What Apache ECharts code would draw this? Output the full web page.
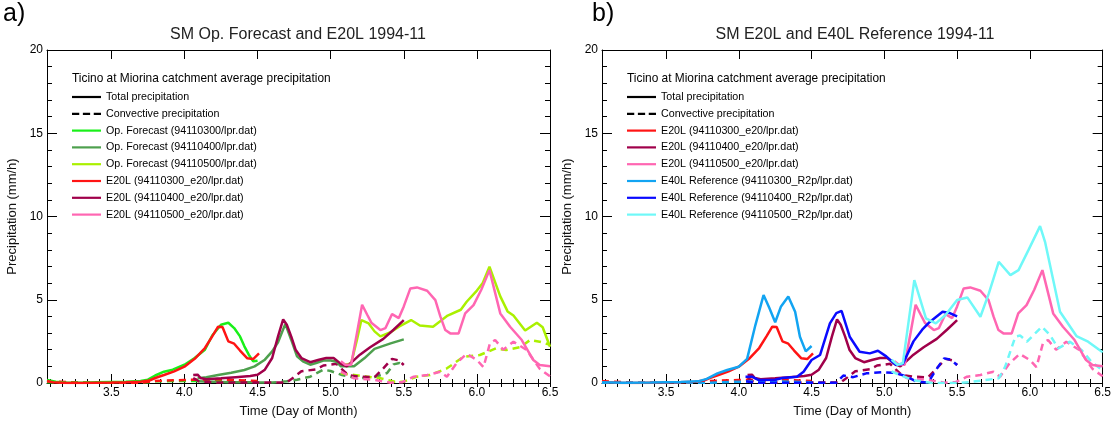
<!DOCTYPE html>
<html>
<head>
<meta charset="utf-8">
<script src="https://cdn.jsdelivr.net/npm/echarts/dist/echarts.min.js"></script>
<style>
  html, body { margin: 0; padding: 0; background: #fff; }
  #chart { width: 1114px; height: 423px; }
</style>
</head>
<body>
<div id="chart"></div>
<script>
// 坐标轴范围与刻度
const xMin = 3.06, xMax = 6.5;
const xMajor = [3.5, 4.0, 4.5, 5.0, 5.5, 6.0, 6.5];
const yTicks = [0, 5, 10, 15, 20];

// Op. Forecast 总降水 [日, mm/h]
const opf0300 = [[3.06,0.18],[3.12,0.08],[3.2,0.02],[3.3,0.02],[3.4,0.04],[3.5,0.06],[3.6,0.08],[3.7,0.12],[3.75,0.2],[3.8,0.45],[3.86,0.68],[3.92,0.8],[4.0,1.1],[4.07,1.5],[4.14,2.0],[4.19,2.85],[4.25,3.5],[4.3,3.62],[4.34,3.3],[4.38,2.8],[4.41,2.2],[4.44,1.7],[4.47,1.3],[4.5,1.34]];
const opf0400 = [[4.09,0.28],[4.15,0.35],[4.23,0.48],[4.32,0.62],[4.41,0.78],[4.48,1.0],[4.55,1.4],[4.6,1.9],[4.64,2.45],[4.69,3.55],[4.73,2.6],[4.77,1.6],[4.81,1.3],[4.86,1.1],[4.9,1.2],[4.95,1.35],[5.0,1.35],[5.04,1.28],[5.07,1.0],[5.16,1.0],[5.23,1.48],[5.3,2.05],[5.41,2.38],[5.5,2.62]];
const opf0500 = [[5.07,1.2],[5.1,1.1],[5.14,1.18],[5.18,2.6],[5.21,3.78],[5.26,3.58],[5.3,3.1],[5.34,2.8],[5.41,3.05],[5.47,3.4],[5.55,3.78],[5.61,3.45],[5.7,3.38],[5.8,4.05],[5.89,4.4],[5.93,4.88],[6.0,5.55],[6.04,6.0],[6.086,6.98],[6.16,5.2],[6.21,4.3],[6.25,4.05],[6.33,3.15],[6.41,3.62],[6.45,3.35],[6.5,2.18]];

// E20L 总降水
const e20_0300 = [[3.06,0.12],[3.1,0.05],[3.2,0.0],[3.3,0.0],[3.4,0.02],[3.5,0.03],[3.6,0.05],[3.7,0.08],[3.76,0.15],[3.8,0.3],[3.86,0.48],[3.93,0.7],[4.0,0.98],[4.07,1.45],[4.14,2.1],[4.19,2.8],[4.23,3.38],[4.26,3.36],[4.3,2.5],[4.34,2.36],[4.38,1.95],[4.43,1.48],[4.47,1.44],[4.51,1.78]];
const e20_0400 = [[4.06,0.48],[4.09,0.5],[4.11,0.3],[4.15,0.22],[4.25,0.28],[4.35,0.35],[4.45,0.42],[4.5,0.5],[4.55,0.8],[4.6,1.5],[4.64,2.8],[4.675,3.82],[4.7,3.5],[4.73,2.8],[4.76,2.0],[4.8,1.5],[4.86,1.25],[4.92,1.4],[4.97,1.5],[5.02,1.5],[5.07,1.15],[5.11,1.0],[5.15,1.3],[5.2,1.7],[5.27,2.15],[5.36,2.65],[5.43,3.2],[5.5,3.78]];
const e20_0500 = [[5.07,1.3],[5.1,1.1],[5.14,1.1],[5.18,3.0],[5.215,4.7],[5.25,4.1],[5.28,3.6],[5.34,3.18],[5.375,3.3],[5.42,4.14],[5.466,3.9],[5.5,4.6],[5.545,5.68],[5.59,5.74],[5.66,5.54],[5.716,4.98],[5.75,4.0],[5.784,3.18],[5.818,2.98],[5.875,2.98],[5.92,4.18],[5.977,4.68],[6.03,5.6],[6.086,6.78],[6.16,4.18],[6.227,3.38],[6.307,2.58],[6.386,1.38],[6.43,1.08],[6.5,1.0]];

// E40L Reference 总降水
const e40_0300 = [[3.06,0.05],[3.2,0.02],[3.4,0.03],[3.6,0.06],[3.72,0.1],[3.78,0.25],[3.853,0.58],[3.92,0.78],[4.0,0.98],[4.057,1.45],[4.114,3.48],[4.17,5.28],[4.21,4.5],[4.25,3.65],[4.29,4.6],[4.34,5.2],[4.387,4.28],[4.42,2.78],[4.46,1.9],[4.5,2.22]];
const e40_0400 = [[4.046,0.38],[4.09,0.38],[4.137,0.18],[4.25,0.2],[4.3,0.3],[4.4,0.38],[4.445,0.68],[4.5,1.38],[4.558,1.68],[4.626,3.58],[4.67,4.2],[4.706,4.33],[4.762,2.78],[4.83,1.88],[4.9,1.78],[4.956,1.94],[5.013,1.6],[5.08,1.08],[5.127,1.15],[5.2,2.5],[5.26,3.2],[5.31,3.65],[5.4,4.28],[5.45,4.2],[5.5,4.0]];
const e40_0500 = [[5.05,1.4],[5.09,1.1],[5.127,1.18],[5.206,6.18],[5.286,3.88],[5.354,3.58],[5.42,4.08],[5.5,4.98],[5.57,5.14],[5.66,3.98],[5.718,5.38],[5.786,7.28],[5.866,6.48],[5.922,6.78],[5.99,7.98],[6.07,9.42],[6.104,8.48],[6.207,4.28],[6.32,2.82],[6.4,2.48],[6.5,1.85]];

// 对流降水 (虚线)
const opf0300c = [[3.06,0.05],[3.5,0.02],[3.75,0.05],[3.8,0.1],[4.0,0.12],[4.2,0.12],[4.4,0.1],[4.5,0.1]];
const opf0400c = [[4.09,0.1],[4.3,0.05],[4.6,0.03],[4.7,0.1],[4.77,0.2],[4.86,0.38],[4.95,0.8],[5.0,0.72],[5.07,0.5],[5.18,0.28],[5.3,0.36],[5.386,0.6],[5.43,1.12],[5.47,1.2],[5.5,1.05]];
const opf0500c = [[5.07,0.58],[5.16,0.48],[5.25,0.38],[5.34,0.28],[5.44,0.08],[5.5,0.08],[5.59,0.38],[5.68,0.48],[5.795,0.88],[5.909,1.58],[6.02,1.68],[6.13,2.08],[6.2,1.98],[6.296,2.15],[6.364,2.58],[6.43,2.48],[6.5,2.3]];
const e20_0300c = [[3.06,0.1],[3.3,0.02],[3.7,0.02],[3.8,0.12],[4.0,0.18],[4.2,0.22],[4.35,0.18],[4.5,0.12]];
const e20_0400c = [[4.06,0.3],[4.1,0.1],[4.2,0.03],[4.7,0.03],[4.75,0.36],[4.8,0.7],[4.9,0.82],[4.95,1.05],[5.04,1.15],[5.08,0.8],[5.12,0.48],[5.2,0.38],[5.3,0.34],[5.36,0.88],[5.42,1.45],[5.466,1.36],[5.5,1.08]];
const e20_0500c = [[5.07,0.68],[5.16,0.28],[5.295,0.2],[5.41,0.02],[5.49,0.05],[5.568,0.38],[5.66,0.48],[5.75,0.68],[5.795,0.38],[5.86,1.18],[5.93,1.75],[6.0,1.38],[6.045,0.95],[6.09,2.4],[6.125,2.58],[6.18,2.0],[6.25,2.48],[6.34,1.98],[6.43,0.85],[6.5,0.4]];
const e40_0300c = [[3.06,0.02],[3.8,0.02],[4.0,0.08],[4.2,0.1],[4.5,0.05]];
const e40_0400c = [[4.05,0.1],[4.1,0.02],[4.67,0.02],[4.718,0.45],[4.786,0.35],[4.876,0.58],[4.99,0.65],[5.08,0.6],[5.15,0.4],[5.22,0.08],[5.3,0.02],[5.354,0.78],[5.41,1.48],[5.456,1.4],[5.5,1.08]];
const e40_0500c = [[5.05,0.7],[5.1,0.5],[5.195,0.18],[5.33,0.0],[5.5,0.0],[5.58,0.05],[5.695,0.18],[5.786,0.28],[5.83,0.98],[5.9,2.78],[5.934,2.85],[5.98,2.48],[6.036,2.98],[6.082,3.38],[6.138,2.88],[6.195,2.08],[6.275,2.48],[6.355,1.98],[6.423,1.28],[6.5,0.75]];

const leftNames = ['Op. Forecast (94110300/lpr.dat)', 'Op. Forecast (94110400/lpr.dat)', 'Op. Forecast (94110500/lpr.dat)',
                   'E20L (94110300_e20/lpr.dat)', 'E20L (94110400_e20/lpr.dat)', 'E20L (94110500_e20/lpr.dat)'];
const rightNames = ['E20L (94110300_e20/lpr.dat)', 'E20L (94110400_e20/lpr.dat)', 'E20L (94110500_e20/lpr.dat)',
                    'E40L Reference (94110300_R2p/lpr.dat)', 'E40L Reference (94110400_R2p/lpr.dat)', 'E40L Reference (94110500_R2p/lpr.dat)'];

const FONT = 'Liberation Sans';
const colOpf = ['#19f019', '#4ea04e', '#aaf000'];
const colE20 = ['#ff1414', '#a0004a', '#ff66b2'];
const colE40 = ['#12a4f2', '#0a0aff', '#6ff8f8'];

// 图例图标: 实线 / 虚线
const ICON_SOLID = 'rect';
const ICON_DASH = 'path://M0,0H7V2.2H0Z M10.5,0H17.5V2.2H10.5Z M21,0H28V2.2H21Z';

// x 轴小刻度 每 2 小时
const xMinor = [];
for (let k = 37; k <= 78; k++) xMinor.push(k / 12);

function xAxes(g) {
    const base = { gridIndex: g, type: 'value', min: xMin, max: xMax, splitLine: { show: false } };
    return [
        Object.assign({}, base, {
            position: 'bottom',
            name: 'Time (Day of Month)', nameLocation: 'middle', nameGap: 22,
            nameTextStyle: { fontFamily: FONT, fontSize: 13, color: '#111' },
            axisLine: { show: true, onZero: false, lineStyle: { color: '#000', width: 1 } },
            axisTick: { inside: true, length: 9, customValues: xMajor, lineStyle: { color: '#000' } },
            axisLabel: { customValues: xMajor, formatter: v => v.toFixed(1), margin: 4, fontFamily: FONT, fontSize: 12, color: '#000' }
        }),
        Object.assign({}, base, {
            position: 'bottom', axisLine: { show: false },
            axisTick: { inside: true, length: 4, customValues: xMinor, lineStyle: { color: '#000' } },
            axisLabel: { show: false }
        }),
        Object.assign({}, base, {
            position: 'top',
            axisLine: { show: true, onZero: false, lineStyle: { color: '#000', width: 1 } },
            axisTick: { inside: true, length: 9, customValues: xMajor, lineStyle: { color: '#000' } },
            axisLabel: { show: false }
        }),
        Object.assign({}, base, {
            position: 'top', axisLine: { show: false },
            axisTick: { inside: true, length: 4, customValues: xMinor, lineStyle: { color: '#000' } },
            axisLabel: { show: false }
        })
    ];
}

function yAxes(g) {
    const base = {
        gridIndex: g, type: 'value', min: 0, max: 20, interval: 5, splitLine: { show: false },
        axisLine: { show: true, lineStyle: { color: '#000', width: 1 } },
        axisTick: { inside: true, length: 10, lineStyle: { color: '#000' } },
        minorTick: { show: true, splitNumber: 5, length: 5, lineStyle: { color: '#000' } }
    };
    return [
        Object.assign({}, base, {
            position: 'left',
            name: 'Precipitation (mm/h)', nameLocation: 'middle', nameGap: 28,
            nameTextStyle: { fontFamily: FONT, fontSize: 13, color: '#111' },
            axisLabel: { margin: 4, fontFamily: FONT, fontSize: 12, color: '#000',
                         formatter: v => yTicks.indexOf(v) >= 0 ? String(v) : '' }
        }),
        Object.assign({}, base, { position: 'right', axisLabel: { show: false } })
    ];
}

function line(name, data, color, dashed, g) {
    return {
        name: name, type: 'line', data: data,
        xAxisIndex: g * 4, yAxisIndex: g * 2,
        symbol: 'none', smooth: false, animation: false,
        lineStyle: { color: color, width: 2.5, type: dashed ? [7, 5] : 'solid' },
        itemStyle: { color: color }
    };
}

const series = [
    line('Total precipitation', [], '#000', false, 0),
    line('Convective precipitation', [], '#000', true, 0)
];
// 左图
[opf0300c, opf0400c, opf0500c].forEach((d, i) => series.push(line(leftNames[i] + ' conv', d, colOpf[i], true, 0)));
[e20_0300c, e20_0400c, e20_0500c].forEach((d, i) => series.push(line(leftNames[i + 3] + ' conv', d, colE20[i], true, 0)));
[opf0300, opf0400, opf0500].forEach((d, i) => series.push(line(leftNames[i], d, colOpf[i], false, 0)));
[e20_0300, e20_0400, e20_0500].forEach((d, i) => series.push(line(leftNames[i + 3], d, colE20[i], false, 0)));
// 右图
[e20_0300c, e20_0400c, e20_0500c].forEach((d, i) => series.push(line(rightNames[i] + ' conv', d, colE20[i], true, 1)));
[e40_0300c, e40_0400c, e40_0500c].forEach((d, i) => series.push(line(rightNames[i + 3] + ' conv', d, colE40[i], true, 1)));
[e20_0300, e20_0400, e20_0500].forEach((d, i) => series.push(line(rightNames[i], d, colE20[i], false, 1)));
[e40_0300, e40_0400, e40_0500].forEach((d, i) => series.push(line(rightNames[i + 3], d, colE40[i], false, 1)));

function legend(left, names) {
    const items = [{ name: 'Total precipitation', icon: ICON_SOLID }, { name: 'Convective precipitation', icon: ICON_DASH }]
        .concat(names.map(n => ({ name: n, icon: ICON_SOLID })));
    return {
        orient: 'vertical', left: left, top: 86, itemWidth: 29, itemHeight: 2.2, itemGap: 4.8,
        selectedMode: false, symbolKeepAspect: false,
        itemStyle: { borderWidth: 0 },
        textStyle: { fontFamily: FONT, fontSize: 10.7, color: '#000', lineHeight: 12 },
        data: items
    };
}

const titleStyle = { fontFamily: FONT, fontSize: 16, fontWeight: 'normal', color: '#222' };
const headStyle = { fontFamily: FONT, fontSize: 11.9, fontWeight: 'normal', color: '#000' };
const tagStyle = { fontFamily: FONT, fontSize: 25, fontWeight: 'normal', color: '#000' };

var myChart = echarts.init(document.getElementById('chart'));
let option = {
    backgroundColor: '#fff',
    animation: false,
    title: [
        { text: 'a)', left: 3, top: 2, textStyle: tagStyle, padding: 0 },
        { text: 'b)', left: 592, top: 2, textStyle: tagStyle, padding: 0 },
        { text: 'SM Op. Forecast and E20L 1994-11', left: 298, top: 27, textAlign: 'center', textStyle: titleStyle, padding: 0 },
        { text: 'SM E20L and E40L Reference 1994-11', left: 855, top: 27, textAlign: 'center', textStyle: titleStyle, padding: 0 },
        { text: 'Ticino at Miorina catchment average precipitation', left: 72, top: 73, textStyle: headStyle, padding: 0 },
        { text: 'Ticino at Miorina catchment average precipitation', left: 627, top: 73, textStyle: headStyle, padding: 0 }
    ],
    legend: [legend(67, leftNames), legend(622, rightNames)],
    grid: [
        { left: 47, right: 564, top: 50, bottom: 40 },
        { left: 602, right: 7, top: 50, bottom: 40 }
    ],
    xAxis: xAxes(0).concat(xAxes(1)),
    yAxis: yAxes(0).concat(yAxes(1)),
    series: series
};
myChart.setOption(option);
</script>
</body>
</html>
